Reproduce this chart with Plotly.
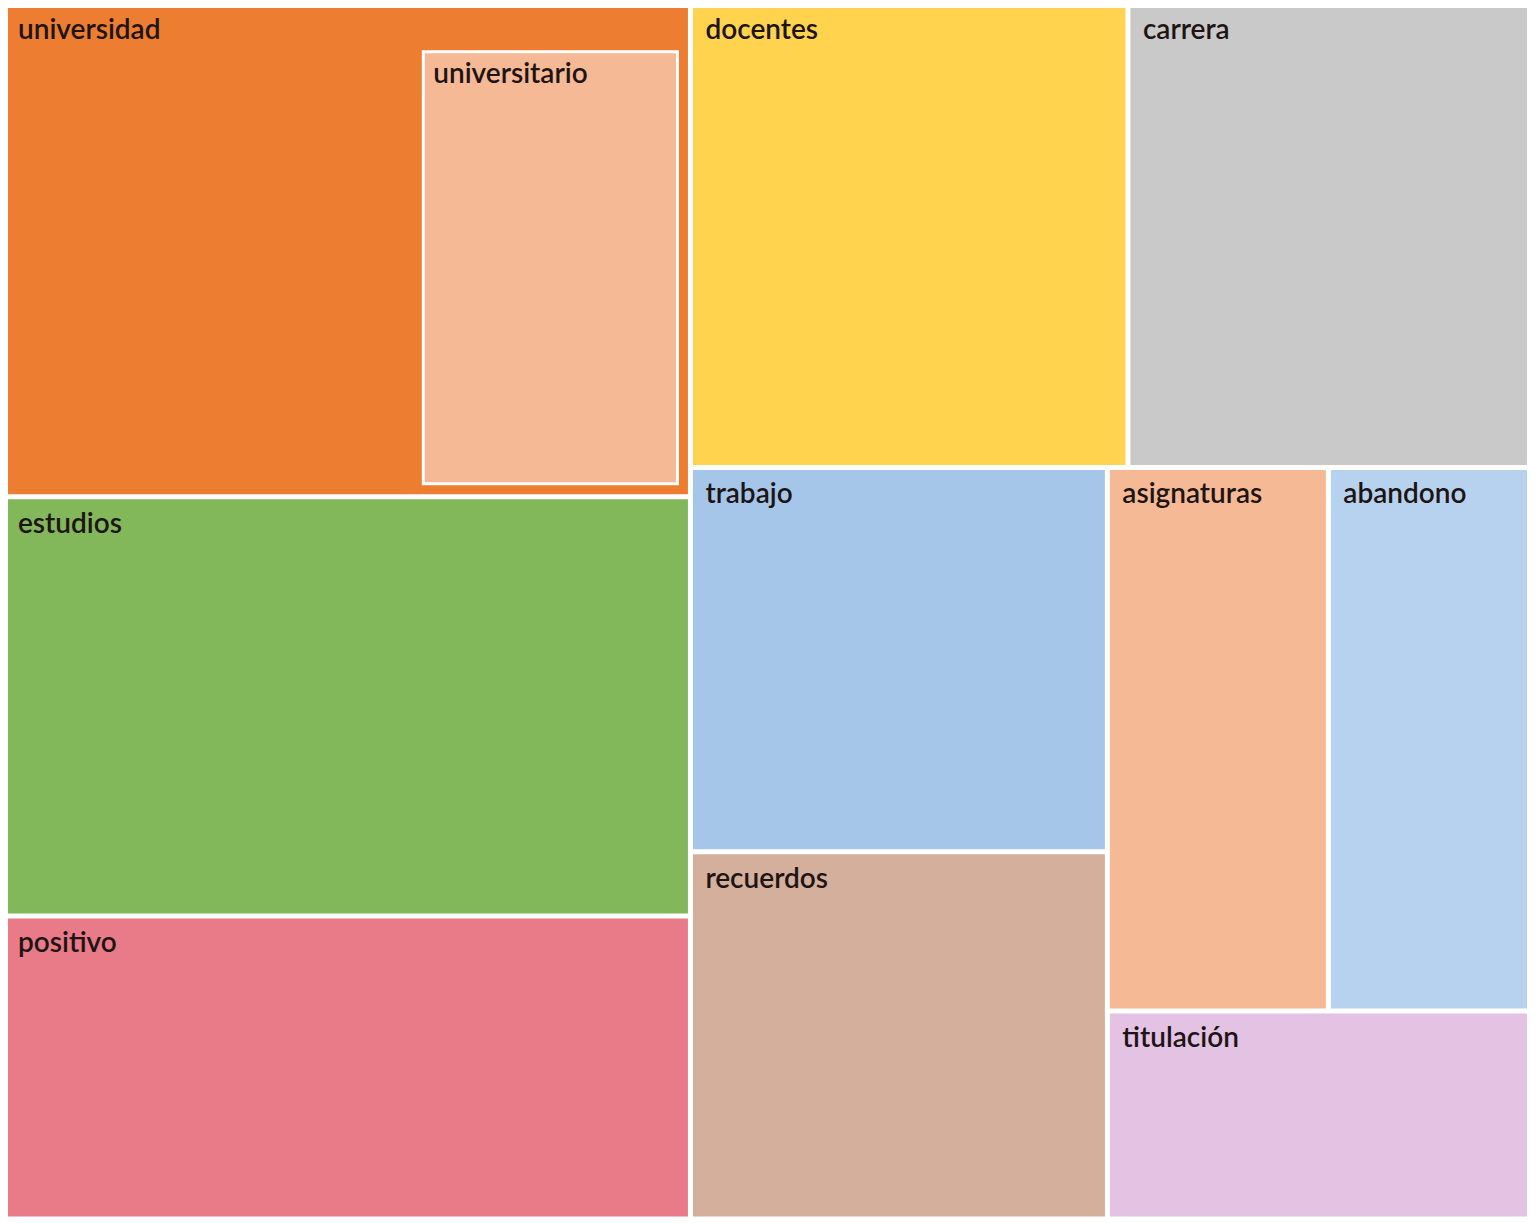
import plotly.graph_objects as go

# ---- Data (term frequencies read from the tile areas) ----
categories = ["universidad", "estudios", "positivo", "docentes", "carrera",
              "trabajo", "recuerdos", "asignaturas", "abandono", "titulación"]
cat_values = [339, 288, 208, 203, 187, 160, 153, 120, 110, 88]   # universidad = total incl. its sub-term
sub_term = "universitario"
sub_value = 121
cat_colors = ["#ED7D31", "#82B75A", "#E87B87", "#FFD34D", "#C9C9C9",
              "#A5C6E9", "#D4AF9C", "#F5B995", "#B7D2EF", "#E3C2E4"]
sub_color = "#F5B995"

# structural (invisible) parts of the "universidad" tile: its own area and its header strip
own_part = 206
header_part = cat_values[0] - own_part - sub_value

ids, labels, parents, values, texts, colors, lcolors, lwidths = [], [], [], [], [], [], [], []

def add(i, lab, par, val, txt, col, lcol, lw):
    ids.append(i); labels.append(lab); parents.append(par); values.append(val)
    texts.append(txt); colors.append(col); lcolors.append(lcol); lwidths.append(lw)

uc = cat_colors[0]
add("universidad", "universidad", "", 0, "", uc, uc, 5)
for c, v, col in zip(categories[1:], cat_values[1:], cat_colors[1:]):
    add(c, c, "", v, c, col, col, 5)
add("universidad/propio", "universidad", "universidad", own_part, "universidad", uc, uc, 5)
add("universidad/sub", "universidad", "universidad", 0, "", uc, uc, 5)
add("universidad/sub/cabecera", "universidad", "universidad/sub", header_part, "", uc, uc, 5)
add("universidad/sub/universitario", sub_term, "universidad/sub", sub_value, sub_term,
    sub_color, "white", 3)

fig = go.Figure(go.Treemap(
    ids=ids,
    labels=labels,
    parents=parents,
    values=values,
    text=texts,
    texttemplate="\u00a0%{text}",
    branchvalues="remainder",
    sort=False,
    marker=dict(colors=colors,
                line=dict(color=lcolors, width=lwidths),
                pad=dict(t=0, l=0, r=4, b=4)),
    tiling=dict(packing="squarify", squarifyratio=1.618034, pad=10),
    pathbar=dict(visible=False),
    textposition="top left",
    textfont=dict(family="Lato", size=28, color="#1e1414", weight=600),
    hoverinfo="label",
))

fig.update_layout(
    width=1522, height=1210,
    margin=dict(l=0, r=0, t=0, b=0),
    paper_bgcolor="white",
)

fig.write_html("out.html")
